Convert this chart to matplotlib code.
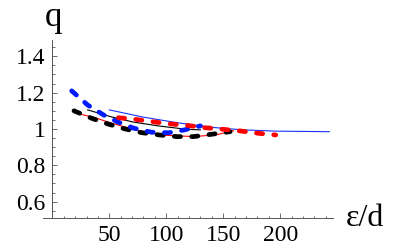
import matplotlib
matplotlib.use("Agg")
import matplotlib.pyplot as plt
from matplotlib.ticker import MultipleLocator, FixedLocator

plt.rcParams['font.family'] = ['Liberation Serif', 'DejaVu Serif']
plt.rcParams['lines.scale_dashes'] = False

# thick dashed series
blue_x = [17, 31, 45, 57, 71, 87, 102, 116, 130]
blue_y = [1.21, 1.132, 1.077, 1.04, 1.005, 0.982, 0.979, 0.995, 1.017]
red_x = [58, 73, 88, 103, 118, 134, 150, 165, 181, 196]
red_y = [1.062, 1.053, 1.04, 1.028, 1.02, 1.007, 0.998, 0.989, 0.976, 0.967]
black_x = [19, 34.5, 49, 64, 78, 94, 109, 124, 140, 156]
black_y = [1.10, 1.059, 1.027, 1.0, 0.98, 0.967, 0.958, 0.958, 0.971, 0.985]

# thin solid series
tblue_x = [50, 80, 109, 138, 167, 197, 243]
tblue_y = [1.105, 1.065, 1.035, 1.010, 0.995, 0.988, 0.985]
tblack_x = [31, 51, 71, 94, 118, 130]
tblack_y = [1.105, 1.068, 1.038, 1.016, 0.998, 0.995]
tred_x = [22, 36, 53, 77, 100, 124, 144, 159]
tred_y = [1.085, 1.065, 1.030, 0.988, 0.965, 0.958, 0.968, 0.99]

xticks = [50, 100, 150, 200]
yticks = [0.6, 0.8, 1.0, 1.2, 1.4]
ytick_labels = ["0.6", "0.8", "1", "1.2", "1.4"]

fig = plt.figure(figsize=(4.08, 2.52), dpi=100)
ax = fig.add_axes([43.2/408, 1-218.3/252, 289.5/408, 178.3/252])
ax.set_xlim(-8, 246)
ax.set_ylim(0.508, 1.49)

ax.plot(tblue_x, tblue_y, color=(0.1, 0.2, 1.0), lw=0.8)
ax.plot(tblack_x, tblack_y, color='black', lw=0.8)
ax.plot(tred_x, tred_y, color='red', lw=0.8)

dash = (4.5, 8.0)
lw = 3.4
ax.plot(black_x, black_y, color='black', lw=lw, dashes=dash, dash_capstyle='round')
ax.plot(blue_x, blue_y, color=(0.0, 0.1, 1.0), lw=lw, dashes=dash, dash_capstyle='round')
ax.plot(red_x, red_y, color='red', lw=lw, dashes=dash, dash_capstyle='round')

for s in ['top', 'right']:
    ax.spines[s].set_visible(False)
ax.spines['left'].set_position(('data', 0))
for s in ['left', 'bottom']:
    ax.spines[s].set_color('#555555')
    ax.spines[s].set_linewidth(0.7)

ax.xaxis.set_major_locator(FixedLocator(xticks))
ax.xaxis.set_minor_locator(MultipleLocator(10))
ax.yaxis.set_major_locator(FixedLocator(yticks))
ax.set_yticklabels(ytick_labels)
ax.yaxis.set_minor_locator(MultipleLocator(0.05))
ax.tick_params(which='both', direction='in', color='#555555', width=0.6, labelsize=17)
ax.tick_params(which='major', length=3.5)
ax.tick_params(which='minor', length=1.8)
ax.tick_params(axis='x', pad=5)
ax.tick_params(axis='y', pad=5)

fig.text(53/408, 1-17/252, "q", fontsize=25, ha='center', va='center')
fig.text(346/408, 1-218/252, "ε/d", fontsize=23, ha='left', va='center')

fig.savefig("out.png", dpi=100)
